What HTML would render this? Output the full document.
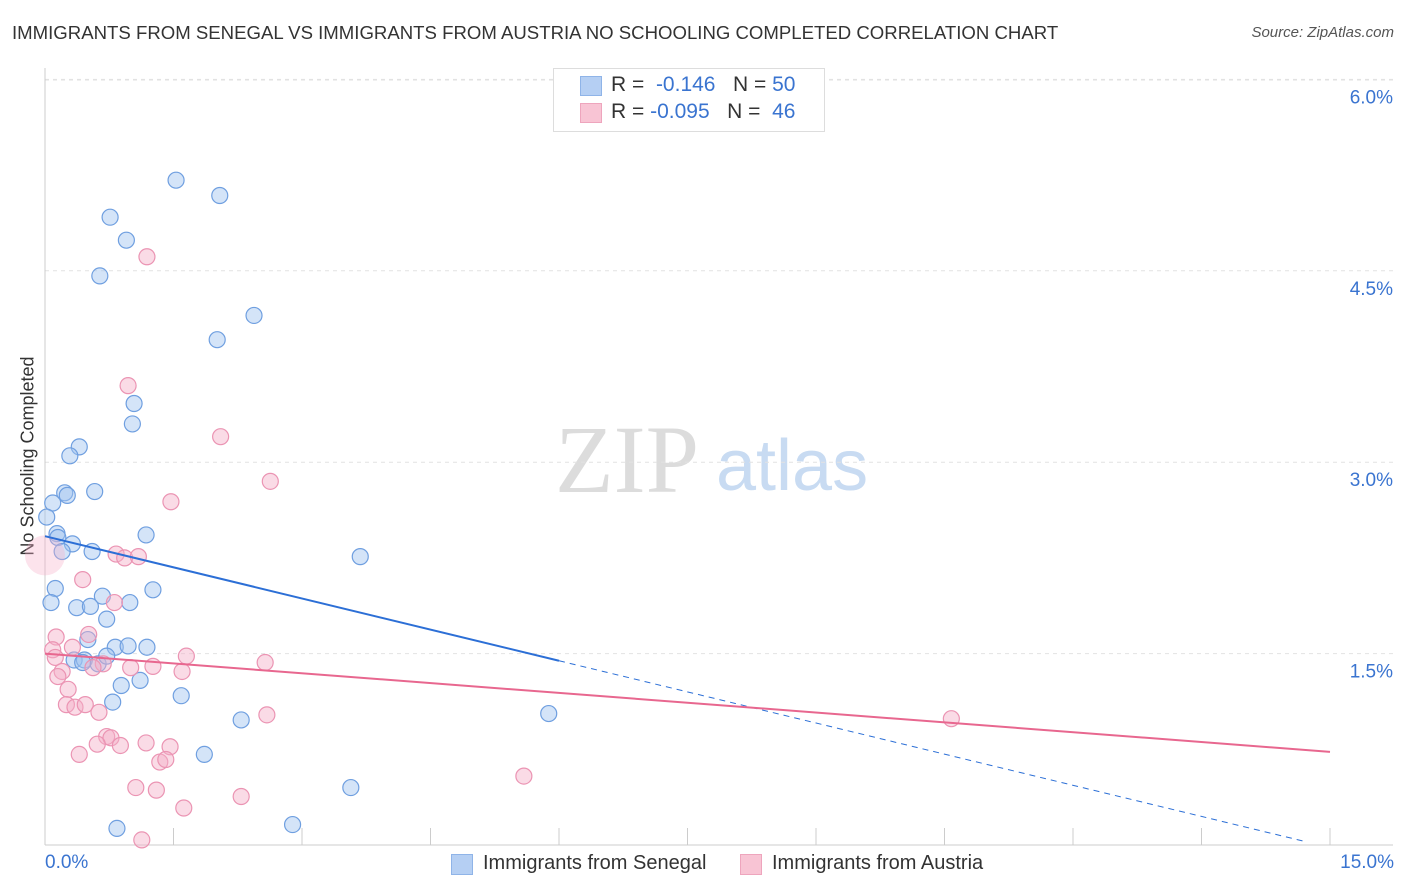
<!DOCTYPE html>
<html><head><meta charset="utf-8"><style>
body{margin:0;background:#fff;font-family:"Liberation Sans",sans-serif;}
#wrap{position:relative;width:1406px;height:892px;overflow:hidden;}
.t{position:absolute;white-space:nowrap;}
</style></head><body>
<div id="wrap">
<div class="t" style="left:12px;top:22px;font-size:18.6px;color:#333;">IMMIGRANTS FROM SENEGAL VS IMMIGRANTS FROM AUSTRIA NO SCHOOLING COMPLETED CORRELATION CHART</div>
<div class="t" style="right:12px;top:24px;font-size:15px;color:#555;font-style:italic;">Source: ZipAtlas.com</div>
<div class="t" style="left:28px;top:456px;font-size:18px;color:#333;transform:translate(-50%,-50%) rotate(-90deg);">No Schooling Completed</div>
<svg id="svg" width="1406" height="892" style="position:absolute;left:0;top:0">
<text x="555" y="492" font-family="Liberation Serif,serif" font-size="96" fill="#dcdcdc">ZIP</text>
<text x="716" y="490" font-family="Liberation Sans,sans-serif" font-size="72" fill="#c8dbf2">atlas</text>
<g id="grid"></g><g id="axes"></g><g id="pts"></g><g id="lines"></g>
</svg>
<div class="t" style="left:553px;top:68px;width:270px;height:62px;border:1px solid #ddd;background:#fff;"></div>
<div class="t" style="left:580px;top:76px;width:20px;height:18px;background:#b5cff3;border:1px solid #8fb4e8;"></div>
<div class="t" style="left:580px;top:103px;width:20px;height:18px;background:#f8c4d4;border:1px solid #eea5bd;"></div>
<div class="t" style="left:611px;top:73px;font-size:21px;color:#333;">R = &nbsp;<span style="color:#3a74d0">-0.146</span>&nbsp;&nbsp; N = <span style="color:#3a74d0">50</span></div>
<div class="t" style="left:611px;top:100px;font-size:21px;color:#333;">R = <span style="color:#3a74d0">-0.095</span>&nbsp;&nbsp; N = &nbsp;<span style="color:#3a74d0">46</span></div>
<div class="t" style="left:45px;top:852px;font-size:19px;color:#3a74d0;">0.0%</div>
<div class="t" style="right:12px;top:852px;font-size:19px;color:#3a74d0;">15.0%</div>
<div class="t" style="left:451px;top:854px;width:20px;height:19px;background:#b5cff3;border:1px solid #8fb4e8;"></div>
<div class="t" style="left:483px;top:852px;font-size:20px;color:#333;">Immigrants from Senegal</div>
<div class="t" style="left:740px;top:854px;width:20px;height:19px;background:#f8c4d4;border:1px solid #eea5bd;"></div>
<div class="t" style="left:772px;top:852px;font-size:20px;color:#333;">Immigrants from Austria</div>
</div>
<script>
const yTicks=[1.5,3.0,4.5,6.0];
const yTickLabels=["1.5%","3.0%","4.5%","6.0%"];
const xTicks=[0,1.5,3,4.5,6,7.5,9,10.5,12,13.5,15];
const senegalX=[1.53,2.04,0.76,0.95,0.64,2.44,2.01,1.04,1.02,0.40,0.29,0.23,0.26,0.58,0.09,0.02,0.14,0.15,1.18,0.32,0.20,0.55,3.68,0.12,1.26,0.07,0.37,0.53,0.99,0.67,0.72,0.50,0.82,0.97,1.19,0.34,0.46,0.62,0.72,1.11,0.89,0.79,1.59,2.29,5.88,1.86,3.57,0.84,2.89,0.44];
const senegalY=[5.21,5.09,4.92,4.74,4.46,4.15,3.96,3.46,3.30,3.12,3.05,2.76,2.74,2.77,2.68,2.57,2.44,2.41,2.43,2.36,2.30,2.30,2.26,2.01,2.00,1.90,1.86,1.87,1.90,1.95,1.77,1.61,1.55,1.56,1.55,1.45,1.45,1.42,1.48,1.29,1.25,1.12,1.17,0.98,1.03,0.71,0.45,0.13,0.16,1.43];
const austriaX=[0.00,1.19,0.97,2.05,2.63,1.47,0.83,0.93,1.09,0.44,0.81,0.13,0.32,0.51,0.09,0.12,0.20,0.15,0.27,0.68,0.56,1.00,1.26,1.65,1.60,2.57,0.25,0.35,0.47,0.63,2.59,10.58,0.72,0.77,0.61,0.88,1.18,1.46,0.40,1.34,1.41,1.06,1.30,2.29,1.62,1.13,5.59];
const austriaY=[2.27,4.61,3.60,3.20,2.85,2.69,2.28,2.25,2.26,2.08,1.90,1.63,1.55,1.65,1.53,1.47,1.36,1.32,1.22,1.42,1.39,1.39,1.40,1.48,1.36,1.43,1.10,1.08,1.10,1.04,1.02,0.99,0.85,0.84,0.79,0.78,0.80,0.77,0.71,0.65,0.67,0.45,0.43,0.38,0.29,0.04,0.54];
const austriaR=[20];
const senegalTrend=[2.42,-0.02];
const austriaTrend=[1.50,0.73];
const X0=45,X1=1330,Y0=845,YPER=127.6;
const sx=v=>X0+(X1-X0)*v/15, sy=v=>Y0-v*YPER;
const NS='http://www.w3.org/2000/svg';
function mk(tag,attrs,parent){const e=document.createElementNS(NS,tag);for(const k in attrs)e.setAttribute(k,attrs[k]);document.getElementById(parent).appendChild(e);return e;}
const tl=mk('line',{x1:45,x2:1393,y1:80,y2:80,stroke:'#e2e2e2','stroke-dasharray':'4,4'},'grid');


yTicks.forEach((v,i)=>{
 const g=mk('line',{x1:45,x2:1393,y1:sy(v),y2:sy(v),stroke:'#e2e2e2','stroke-dasharray':'4,4'},'grid');
 
 
 const t=mk('text',{x:1393,y:sy(v)+24,'text-anchor':'end','font-size':19,fill:'#3a74d0','font-family':'Liberation Sans,sans-serif'},'grid');
 t.textContent=yTickLabels[i];
 
 
});
const ax=mk('line',{x1:45,x2:1393,y1:Y0,y2:Y0,stroke:'#ccc'},'axes');


const ay=mk('line',{x1:45,x2:45,y1:68,y2:Y0,stroke:'#ccc'},'axes');


xTicks.forEach(v=>{
 const t=mk('line',{x1:sx(v),x2:sx(v),y1:828,y2:Y0,stroke:'#ccc'},'axes');
 
 
});
senegalX.forEach((v,i)=>{
 const c=mk('circle',{cx:sx(v),cy:sy(senegalY[i]),r:8,fill:'rgba(160,195,240,0.45)',stroke:'#6f9fe0','stroke-width':1.2},'pts');
 
 
});
austriaX.forEach((v,i)=>{
 const big=austriaR[i];
 const c=mk('circle',{cx:sx(v),cy:sy(austriaY[i]),r:big||8,fill:big?'rgba(245,175,200,0.35)':'rgba(245,175,200,0.45)',stroke:big?'none':'#eb94b3','stroke-width':1.2},'pts');
 
 
});
const bx=6.0, by=senegalTrend[0]+(senegalTrend[1]-senegalTrend[0])*bx/15;
const l1=mk('line',{x1:sx(0),y1:sy(senegalTrend[0]),x2:sx(bx),y2:sy(by),stroke:'#2c6fd6','stroke-width':2},'lines');


const l2=mk('line',{x1:sx(bx),y1:sy(by),x2:sx(14.7),y2:sy(senegalTrend[0]+(senegalTrend[1]-senegalTrend[0])*14.7/15),stroke:'#2c6fd6','stroke-width':1,'stroke-dasharray':'6,5'},'lines');


const l3=mk('line',{x1:sx(0),y1:sy(austriaTrend[0]),x2:sx(15),y2:sy(austriaTrend[1]),stroke:'#e8678f','stroke-width':2},'lines');


</script>
</body></html>
